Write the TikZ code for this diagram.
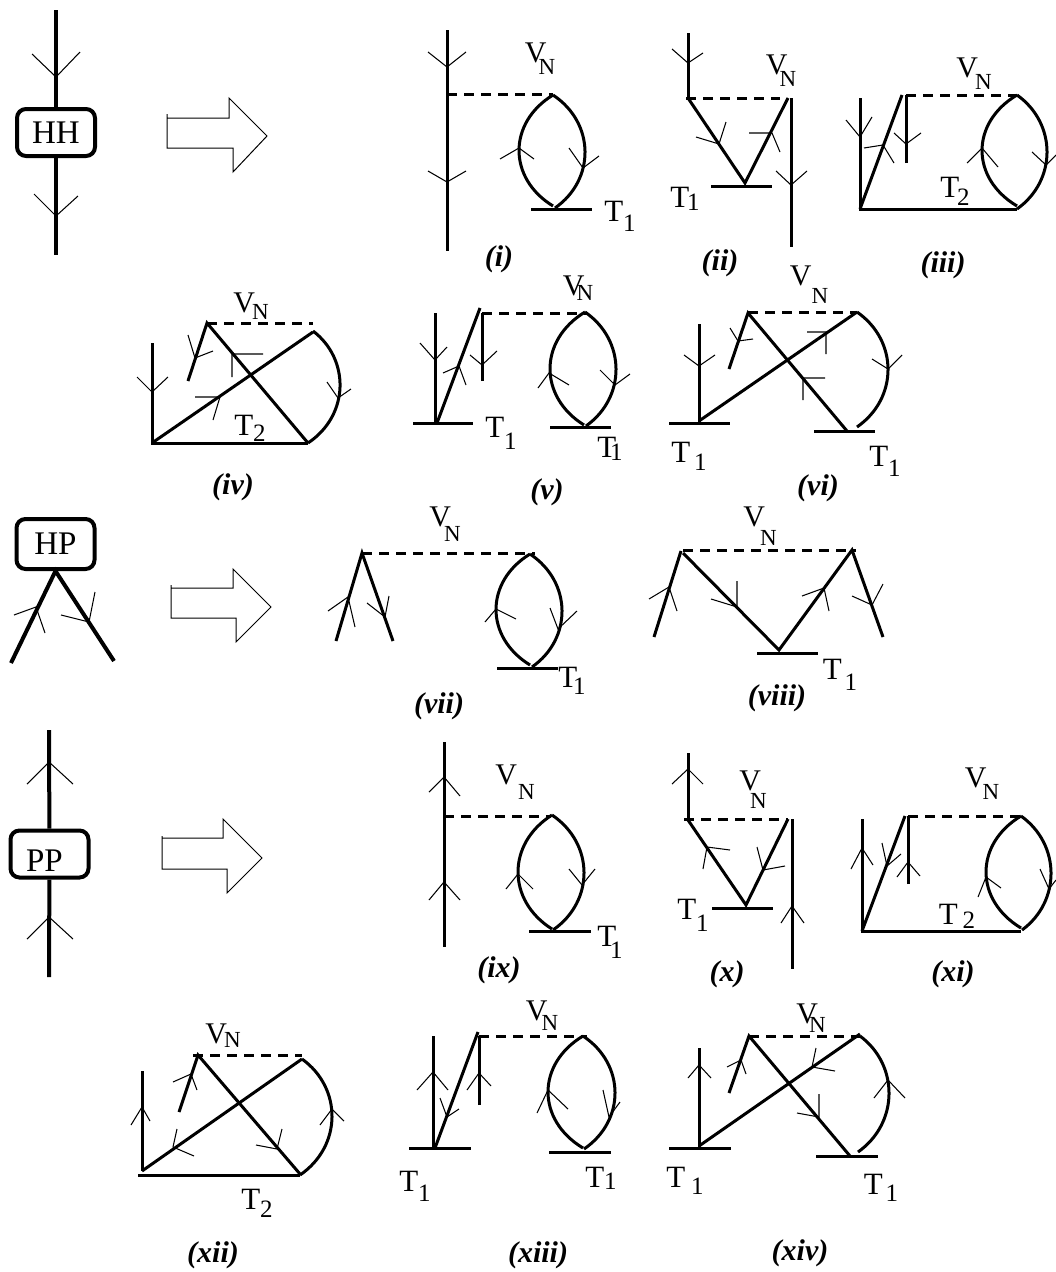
\documentclass[tikz,border=0pt]{standalone}
\usepackage{fontspec}
\usepackage{tikz}
\usetikzlibrary{calc}
\setmainfont{Liberation Serif}
\tikzset{
  wire/.style={line width=3pt},
  fatwire/.style={line width=4pt},
  barb/.style={line width=1.05pt},
  scalar/.style={line width=3pt,dash pattern=on 10pt off 7pt},
  blockarrow/.style={line width=1pt,line join=miter},
  vertexbox/.style={draw,line width=4pt,rounded corners=9pt,inner sep=0pt,minimum width=78pt,minimum height=47pt,font=\fontsize{33}{33}\selectfont},
  lab/.style={inner sep=0pt,font=\fontsize{30}{30}\selectfont},
  caption/.style={inner sep=0pt,font=\fontsize{30}{30}\selectfont\bfseries\itshape}
}
% letter with a shifted subscript
\newcommand{\subl}[4]{#1\kern#3pt\lower#4pt\hbox{\fontsize{23}{23}\selectfont #2}}
\newcommand{\subt}[4]{\fontsize{31}{31}\selectfont #1\kern#3pt\lower#4pt\hbox{\fontsize{25}{25}\selectfont #2}}
% curved line bulging out to x = #5
\newcommand{\bulge}[5]{\draw[wire] (#1,#2) .. controls ({(#5-(#1+#3)/8)/.75},{#2+.25*(#4-#2)}) and ({(#5-(#1+#3)/8)/.75},{#4-.25*(#4-#2)}) .. (#3,#4);}
\begin{document}
\begin{tikzpicture}[x=1pt,y=-1pt]
    \useasboundingbox (0,0) rectangle (1056,1272);

    % HH vertex
    \node[vertexbox] (hh) at (56,132.5) {HH};
    \coordinate (hhtop) at (56,10);
    \coordinate (hhbot) at (56,255);
    \draw[fatwire] (hhtop) -- (hh) -- (hhbot);
    \draw[barb] (32,54) -- (56,77) -- (80,52) (34,194) -- (56,216) -- (78,196);
    \draw[blockarrow] (167,114) -- (167,148) -- (233,148) -- (233,172) -- (267,136) -- (229,98) -- (229,118) -- (167,118);

    % (i)
    \draw[wire] (447,30) -- (447,251);
    \draw[scalar] (447,94) -- (553,94);
    \bulge{553}{95}{553}{206}{519}
    \bulge{553}{95}{555}{208}{585}
    \draw[wire] (531,209) -- (592,209);
    \draw[barb] (428,52) -- (447,67) -- (466,52) (428,171) -- (447,182) -- (466,171);
    \draw[barb] (500,159) -- (519,148) -- (534,159) (569,148) -- (583,168) -- (599,156);
    \node[lab] (vn1) at (540,59) {\subl{V}{N}{-8}{12}};
    \node[lab] (t1a) at (620,216) {\subt{T}{1}{0}{10}};
    \node[caption] (capi) at (499,259) {(i)};

    % (ii)
    \draw[wire] (688,33) -- (688,98);
    \draw[scalar] (686,98) -- (780,98);
    \draw[wire] (688,98) -- (745,183) -- (788,98);
    \draw[wire] (791,98) -- (791,247);
    \draw[wire] (711,186) -- (772,186);
    \draw[barb] (672,49) -- (688,63) -- (703,53) (696,137) -- (719,144) -- (726,122);
    \draw[barb] (749,133) -- (772,133) -- (780,152) (776,171) -- (791,185) -- (807,171);
    \node[lab] (vn2) at (781,71) {\subl{V}{N}{-8}{12}};
    \node[lab] (t1b) at (685,199) {\subt{T}{1}{-2}{3}};
    \node[caption] (capii) at (720,263) {(ii)};

    % (iii)
    \draw[wire] (860,98) -- (860,209) -- (1017,209);
    \draw[wire] (860,209) -- (902,95);
    \draw[wire] (906,163) -- (906,95);
    \draw[scalar] (906,95) -- (1017,95);
    \bulge{1017}{95}{1017}{206}{982}
    \bulge{1017}{95}{1017}{209}{1047}
    \draw[barb] (846,120) -- (860,137) -- (872,117) (864,148) -- (883,145) -- (894,163) (894,133) -- (906,144) -- (921,133);
    \draw[barb] (967,163) -- (982,148) -- (998,167) (1032,152) -- (1046,165) -- (1056,155);
    \node[lab] (vn3) at (974,74) {\subl{V}{N}{-3}{12}};
    \node[lab] (t2a) at (955,191) {\subt{T}{2}{-2}{8}};
    \node[caption] (capiii) at (943,265) {(iii)};

    % (iv)
    \draw[wire] (152,343) -- (152,443) -- (308,443);
    \draw[wire] (152,443) -- (313,332);
    \draw[wire] (188,381) -- (207,323) -- (308,443);
    \draw[scalar] (207,323) -- (313,323);
    \bulge{313}{331}{308}{443}{340}
    \draw[barb] (137,377) -- (152,392) -- (168,377) (188,335) -- (195,358) -- (213,351) (263,354) -- (232,354) -- (232,377);
    \draw[barb] (195,397) -- (220,397) -- (213,420) (327,382) -- (338,398) -- (351,389);
    \node[lab] (vn4) at (251,306) {\subl{V}{N}{-3}{7}};
    \node[lab] (t2b) at (250,428) {\subt{T}{2}{0}{6}};
    \node[caption] (capiv) at (233,487) {(iv)};

    % (v)
    \draw[wire] (435,313) -- (435,423);
    \draw[wire] (413,423) -- (473,423);
    \draw[wire] (437,423) -- (480,308);
    \draw[wire] (482,381) -- (482,313);
    \draw[scalar] (482,313) -- (587,313);
    \bulge{585}{312}{584}{425}{550}
    \bulge{585}{312}{586}{426}{616}
    \draw[wire] (550,427) -- (611,427);
    \draw[barb] (420,343) -- (435,360) -- (447,347) (443,373) -- (459,366) -- (466,385) (470,355) -- (482,365) -- (497,351);
    \draw[barb] (538,388) -- (549,373) -- (569,385) (600,370) -- (615,385) -- (630,374);
    \node[lab] (vn5) at (578,288) {\subl{V}{N}{-8}{5}};
    \node[lab] (t1c) at (501,433) {\subt{T}{1}{0}{12}};
    \node[lab] (t1d) at (610,449) {\subt{T}{1}{-6}{3}};
    \node[caption] (capv) at (547,492) {(v)};

    % (vi)
    \draw[wire] (699,324) -- (699,423);
    \draw[wire] (669,423) -- (730,423);
    \draw[wire] (699,421) -- (857,312);
    \draw[wire] (729,369) -- (748,313) -- (847,431);
    \draw[scalar] (748,312) -- (857,312);
    \bulge{857}{312}{857}{427}{888}
    \draw[wire] (814,431) -- (875,431);
    \draw[barb] (684,355) -- (699,366) -- (715,355) (730,328) -- (738,341) -- (753,339) (807,332) -- (826,332) -- (826,354);
    \draw[barb] (825,378) -- (803,378) -- (803,400) (872,359) -- (888,369) -- (902,355);
    \node[lab] (vn6) at (809,285) {\subl{V}{N}{0}{18}};
    \node[lab] (t1e) at (689,456) {\subt{T}{1}{4}{8}};
    \node[lab] (t1f) at (885,461) {\subt{T}{1}{0}{10}};
    \node[caption] (capvi) at (818,488) {(vi)};

    % HP vertex
    \node[vertexbox,minimum height=50pt] (hp) at (55.5,544) {HP};
    \coordinate (hpleft) at (11,663);
    \coordinate (hpright) at (114,661);
    \draw[fatwire] (hpleft) -- (hp.south) -- (hpright);
    \draw[barb] (14,615) -- (36,607) -- (45,633) (61,615) -- (89,622) -- (95,592);
    \draw[blockarrow] (171,585) -- (171,618) -- (236,618) -- (236,642) -- (271,607) -- (233,569) -- (233,588) -- (171,588);

    % (vii)
    \draw[wire] (336,641) -- (362,553) -- (393,641);
    \draw[scalar] (362,553) -- (535,553);
    \bulge{530}{554}{530}{665}{496}
    \bulge{530}{554}{532}{667}{562}
    \draw[wire] (497,668) -- (558,668);
    \draw[barb] (328,611) -- (348,597) -- (355,627) (367,603) -- (385,617) -- (389,596);
    \draw[barb] (485,622) -- (496,609) -- (516,619) (550,608) -- (558,629) -- (577,611);
    \node[lab] (vn7) at (445,524) {\subl{V}{N}{-7}{15}};
    \node[lab] (t1g) at (572,681) {\subt{T}{1}{-4}{7}};
    \node[caption] (capvii) at (439,706) {(vii)};

    % (viii)
    \draw[wire] (654,637) -- (681,551);
    \draw[scalar] (683,550) -- (856,550);
    \draw[wire] (683,553) -- (779,650) -- (852,550) -- (883,637);
    \draw[wire] (757,653) -- (818,653);
    \draw[barb] (649,599) -- (669,587) -- (677,611) (711,599) -- (737,607) -- (737,581);
    \draw[barb] (802,596) -- (824,588) -- (829,611) (852,596) -- (872,605) -- (883,584);
    \node[lab] (vn8) at (760,526) {\subl{V}{N}{-5}{19}};
    \node[lab] (t1h) at (840,675) {\subt{T}{1}{3}{11}};
    \node[caption] (capviii) at (777,698) {(viii)};

    % PP vertex
    \node[vertexbox] (pp) at (49.5,854) {\smash{\raisebox{-17pt}{PP\kern 10pt}}};
    \coordinate (pptop) at (49,730);
    \coordinate (ppbot) at (49,977);
    \draw[fatwire] (pptop) -- (pp) -- (ppbot);
    \draw[barb] (27,784) -- (49,762) -- (73,784) (27,939) -- (49,917) -- (73,939);
    \draw[blockarrow] (162,836) -- (162,869) -- (227,869) -- (227,893) -- (262,858) -- (223,819) -- (223,838) -- (162,838);

    % (ix)
    \draw[wire] (444,742) -- (444,947);
    \draw[scalar] (444,816) -- (551,816);
    \bulge{552}{815}{552}{929}{518}
    \bulge{552}{815}{553}{930}{584}
    \draw[wire] (529,931) -- (591,931);
    \draw[barb] (429,792) -- (444,777) -- (460,796) (429,900) -- (444,882) -- (460,900);
    \draw[barb] (506,889) -- (518,874) -- (533,889) (569,869) -- (582,885) -- (595,869);
    \node[lab] (vn9) at (515,782) {\subl{V}{N}{1}{15}};
    \node[lab] (t1i) at (610,942) {\subt{T}{1}{-6}{12}};
    \node[caption] (capix) at (499,970) {(ix)};

    % (x)
    \draw[wire] (688,753) -- (688,819);
    \draw[scalar] (684,819) -- (788,819);
    \draw[wire] (688,820) -- (746,905) -- (788,819);
    \draw[wire] (792,819) -- (792,969);
    \draw[wire] (712,908) -- (773,908);
    \draw[barb] (672,784) -- (688,769) -- (703,784) (703,869) -- (707,847) -- (730,850);
    \draw[barb] (757,847) -- (763,870) -- (785,866) (781,923) -- (792,906) -- (804,923);
    \node[lab] (vn10) at (753,790) {\subl{V}{N}{-11}{18}};
    \node[lab] (t1j) at (693,915) {\subt{T}{1}{0}{12}};
    \node[caption] (capx) at (727,974) {(x)};

    % (xi)
    \draw[wire] (862,819) -- (862,931) -- (1021,931);
    \draw[wire] (862,931) -- (905,816);
    \draw[wire] (908,884) -- (908,816);
    \draw[scalar] (908,816) -- (1021,816);
    \bulge{1021}{816}{1021}{928}{986}
    \bulge{1021}{816}{1022}{930}{1051}
    \draw[barb] (851,869) -- (862,848) -- (873,865) (882,843) -- (887,866) -- (901,854) (897,877) -- (908,862) -- (920,876);
    \draw[barb] (978,897) -- (986,877) -- (1001,888) (1040,869) -- (1049,889) -- (1056,880);
    \node[lab] (vn11) at (982,784) {\subl{V}{N}{-4}{12}};
    \node[lab] (t2c) at (957,916) {\subt{T}{2}{5}{4}};
    \node[caption] (capxi) at (953,974) {(xi)};

    % (xii)
    \draw[wire] (142,1071) -- (142,1171);
    \draw[wire] (138,1175) -- (300,1175);
    \draw[wire] (142,1171) -- (302,1059);
    \draw[wire] (179,1112) -- (198,1055) -- (300,1174);
    \draw[scalar] (193,1055) -- (302,1055);
    \bulge{302}{1059}{300}{1175}{332}
    \draw[barb] (131,1125) -- (142,1107) -- (150,1121) (173,1082) -- (191,1074) -- (197,1090) (177,1129) -- (173,1147) -- (194,1156);
    \draw[barb] (256,1145) -- (277,1149) -- (282,1129) (320,1125) -- (332,1109) -- (344,1121);
    \node[lab] (vn12) at (223,1036) {\subl{V}{N}{-3}{4}};
    \node[lab] (t2d) at (257,1203) {\subt{T}{2}{0}{8}};
    \node[caption] (capxii) at (213,1255) {(xii)};

    % (xiii)
    \draw[wire] (433,1036) -- (433,1148);
    \draw[wire] (409,1148) -- (471,1148);
    \draw[wire] (435,1148) -- (478,1032);
    \draw[wire] (479,1105) -- (479,1036);
    \draw[scalar] (479,1036) -- (587,1036);
    \bulge{583}{1036}{583}{1148}{548}
    \bulge{583}{1036}{584}{1149}{615}
    \draw[wire] (549,1152) -- (611,1152);
    \draw[barb] (417,1090) -- (433,1072) -- (448,1090) (440,1098) -- (447,1117) -- (459,1109) (467,1090) -- (479,1073) -- (491,1086);
    \draw[barb] (537,1113) -- (548,1090) -- (568,1109) (603,1090) -- (609,1117) -- (620,1102);
    \node[lab] (vn13) at (542,1016) {\subl{V}{N}{-6}{10}};
    \node[lab] (t1k) at (415,1186) {\subt{T}{1}{0}{10}};
    \node[lab] (t1l) at (601,1178) {\subt{T}{1}{0}{2}};
    \node[caption] (capxiii) at (538,1255) {(xiii)};

    % (xiv)
    \draw[wire] (699,1048) -- (699,1148);
    \draw[wire] (669,1148) -- (731,1148);
    \draw[wire] (699,1146) -- (860,1034);
    \draw[wire] (729,1093) -- (749,1036) -- (850,1156);
    \draw[scalar] (749,1036) -- (860,1036);
    \bulge{860}{1036}{858}{1152}{889}
    \draw[wire] (816,1156) -- (878,1156);
    \draw[barb] (688,1078) -- (699,1065) -- (711,1078) (727,1067) -- (741,1060) -- (746,1074) (816,1048) -- (812,1067) -- (835,1071);
    \draw[barb] (797,1113) -- (819,1117) -- (819,1094) (874,1098) -- (888,1080) -- (905,1098);
    \node[lab] (vn14) at (811,1018) {\subl{V}{N}{-9}{9}};
    \node[lab] (t1m) at (685,1181) {\subt{T}{1}{6}{7}};
    \node[lab] (t1n) at (881,1188) {\subt{T}{1}{3}{7}};
    \node[caption] (capxiv) at (800,1253) {(xiv)};
\end{tikzpicture}
\end{document}
